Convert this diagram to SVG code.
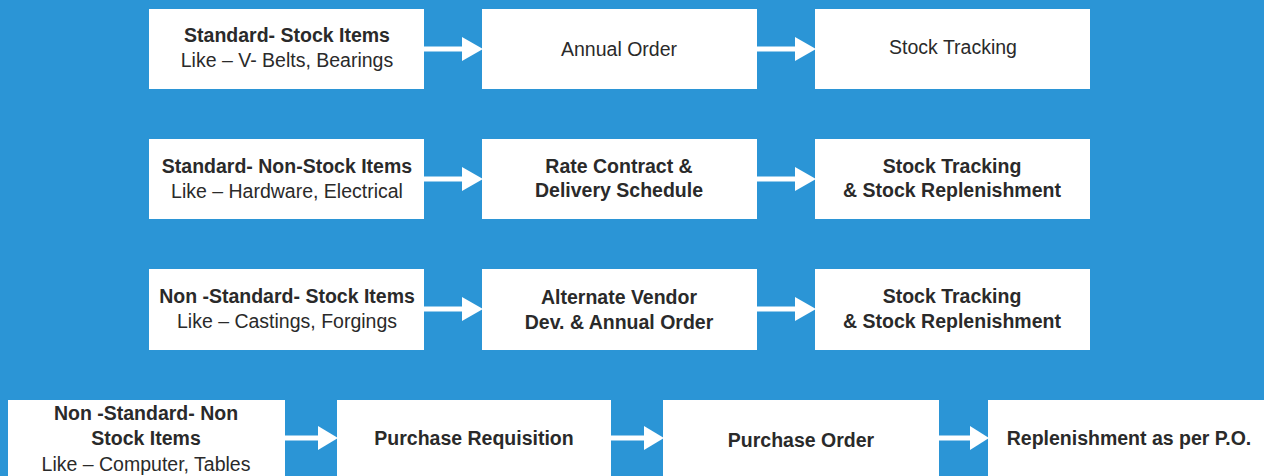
<svg xmlns="http://www.w3.org/2000/svg" width="1264" height="476" viewBox="0 0 1264 476">
<style>
.box{fill:#ffffff}
text{font-family:"Liberation Sans",Arial,sans-serif;font-size:19.5px;fill:#2a2a2a;text-anchor:middle}
.b{font-weight:bold}
.ln{stroke:#ffffff;stroke-width:5;fill:none}
.hd{fill:#ffffff}
</style>
<rect width="1264" height="476" fill="#2b95d6"/>
<g id="connectors">
<line class="ln" x1="424" y1="49" x2="464" y2="49"/><polygon class="hd" points="462,37 483,49 462,61"/>
<line class="ln" x1="757" y1="49" x2="797" y2="49"/><polygon class="hd" points="795,37 816,49 795,61"/>
<line class="ln" x1="424" y1="179" x2="464" y2="179"/><polygon class="hd" points="462,167 483,179 462,191"/>
<line class="ln" x1="757" y1="179" x2="797" y2="179"/><polygon class="hd" points="795,167 816,179 795,191"/>
<line class="ln" x1="424" y1="309" x2="464" y2="309"/><polygon class="hd" points="462,297 483,309 462,321"/>
<line class="ln" x1="757" y1="309" x2="797" y2="309"/><polygon class="hd" points="795,297 816,309 795,321"/>
<line class="ln" x1="284" y1="438" x2="320" y2="438"/><polygon class="hd" points="318,426 338,438 318,450"/>
<line class="ln" x1="610" y1="438" x2="646" y2="438"/><polygon class="hd" points="644,426 664,438 644,450"/>
<line class="ln" x1="938" y1="438" x2="972" y2="438"/><polygon class="hd" points="970,426 989,438 970,450"/>
</g>
<g id="n1"><rect class="box" x="149" y="9" width="275" height="80"/><text class="b" x="287" y="42">Standard- Stock Items</text><text x="287" y="67">Like – V- Belts, Bearings</text></g>
<g id="n2"><rect class="box" x="482" y="9" width="275" height="80"/><text x="619" y="56">Annual Order</text></g>
<g id="n3"><rect class="box" x="815" y="9" width="275" height="80"/><text x="953" y="54">Stock Tracking</text></g>
<g id="n4"><rect class="box" x="149" y="139" width="275" height="80"/><text class="b" x="287" y="173">Standard- Non-Stock Items</text><text x="287" y="198">Like – Hardware, Electrical</text></g>
<g id="n5"><rect class="box" x="482" y="139" width="275" height="80"/><text class="b" x="619" y="173">Rate Contract &amp;</text><text class="b" x="619" y="197">Delivery Schedule</text></g>
<g id="n6"><rect class="box" x="815" y="139" width="275" height="80"/><text class="b" x="952" y="173">Stock Tracking</text><text class="b" x="952" y="197">&amp; Stock Replenishment</text></g>
<g id="n7"><rect class="box" x="149" y="269" width="275" height="81"/><text class="b" x="287" y="303">Non -Standard- Stock Items</text><text x="287" y="328">Like – Castings, Forgings</text></g>
<g id="n8"><rect class="box" x="482" y="269" width="275" height="81"/><text class="b" x="619" y="304">Alternate Vendor</text><text class="b" x="619" y="329">Dev. &amp; Annual Order</text></g>
<g id="n9"><rect class="box" x="815" y="269" width="275" height="81"/><text class="b" x="952" y="303">Stock Tracking</text><text class="b" x="952" y="328">&amp; Stock Replenishment</text></g>
<g id="n10"><rect class="box" x="8" y="400" width="277" height="80"/><text class="b" x="146" y="420">Non -Standard- Non</text><text class="b" x="146" y="445">Stock Items</text><text x="146" y="471">Like – Computer, Tables</text></g>
<g id="n11"><rect class="box" x="337" y="400" width="274" height="80"/><text class="b" x="474" y="445">Purchase Requisition</text></g>
<g id="n12"><rect class="box" x="663" y="400" width="276" height="80"/><text class="b" x="801" y="447">Purchase Order</text></g>
<g id="n13"><rect class="box" x="988" y="400" width="276" height="80"/><text class="b" x="1129" y="445">Replenishment as per P.O.</text></g>
</svg>
